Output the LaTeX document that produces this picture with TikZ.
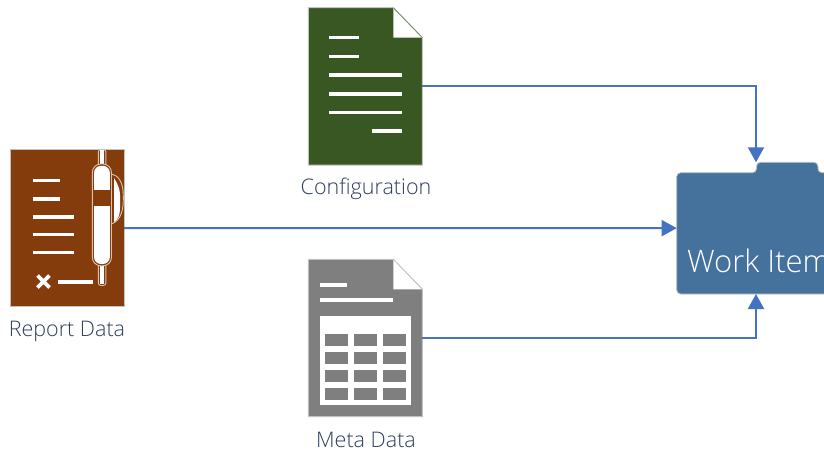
\documentclass[tikz,border=0pt]{standalone}
\usepackage{fontspec}
\setmainfont{Open Sans Light}
\usetikzlibrary{arrows.meta}
\definecolor{conn}{HTML}{4472C4}
\definecolor{labelc}{HTML}{2F3F5F}
\definecolor{brownc}{HTML}{843C0C}
\definecolor{greenc}{HTML}{385723}
\definecolor{grayc}{HTML}{7F7F7F}
\definecolor{bluec}{HTML}{44729D}
\definecolor{edgec}{HTML}{BFC4BC}
\definecolor{penedge}{HTML}{D8C3B0}
\tikzset{
  iconbox/.style={draw=none,fill=none,inner sep=0pt,outer sep=0pt,minimum width=114pt,minimum height=157.4pt},
  bar/.style={draw=white,line width=3.2pt},
  cell/.style={fill=grayc,draw=none},
  penline/.style={draw=penedge,line width=.9pt,fill=brownc},
  caption/.style={text=labelc,font=\fontsize{21.5}{25}\selectfont,inner sep=0pt,anchor=base},
  flow/.style={draw=conn,line width=2pt,-{Triangle[length=15pt,width=16pt,fill=conn]}},
}
\begin{document}
\begin{tikzpicture}[x=1pt,y=-1pt]
\useasboundingbox (0,0) rectangle (824,452);
\clip (0,0) rectangle (824,452);
\fill[white] (0,0) rectangle (824,452);
% named boxes
\node[iconbox] (report) at (67,228) {};
\node[iconbox] (config) at (365.3,86.3) {};
\node[iconbox] (meta) at (365.3,338) {};
\node[inner sep=0pt,outer sep=0pt,minimum width=158.6pt,minimum height=131.7pt] (work) at (756,228.15) {};
% report
\fill[brownc,draw=edgec,line width=1pt] (report.north west) rectangle (report.south east);
\foreach \y/\e in {180.7/60,199/60,217/73.5,234.8/73.5,252.7/73.5}
  \draw[bar] (32.5,\y) -- (\e,\y);
\draw[bar] (57.5,282) -- (92.5,282);
\draw[white,line width=3.6pt] (37.5,275.5) -- (49.5,287.5) (49.5,275.5) -- (37.5,287.5);
% pen
\draw[penline,rounded corners=2.5pt] (98.3,149.5) rectangle (105.9,285.5);
\fill[white] (99.8,149.5) rectangle (104.4,283.5);
\draw[penline] (109,174) .. controls (119,174) and (123.3,183) .. (123.3,196) -- (123.3,200) .. controls (123.3,213) and (119,223) .. (109,224.5) -- cycle;
\fill[white] (114,178) .. controls (118,184) and (120,190) .. (120,195) -- (120,208) .. controls (120,215) and (118,220) .. (114,222) -- cycle;
\draw[penline,rounded corners=8.5pt] (92.3,164) rectangle (111.5,265.8);
\fill[white,rounded corners=7pt] (94,165.8) rectangle (109.9,264);
\fill[brownc] (94,190) rectangle (109.9,206);
% config
\path[fill=greenc,draw=edgec,line width=1pt] (config.north west) -- (393.3,7.7) -- (422.3,37.7) -- (config.south east) -- (config.south west) -- cycle;
\fill[white] (393.3,7.7) -- (393.3,37.7) -- (422.3,37.7) -- cycle;
\draw[greenc!70!white,line width=.8pt] (393.3,7.7) -- (422.3,37.7);
\foreach \y/\a/\b in {37.5/329/358.5,56.5/329/358.5,75/329/401.5,94/329/401.5,112.5/329/401.5,131/372/401.5}
  \draw[bar] (\a,\y) -- (\b,\y);
% meta
\path[fill=grayc,draw=edgec,line width=1pt] (meta.north west) -- (393.3,259.3) -- (422.3,289.3) -- (meta.south east) -- (meta.south west) -- cycle;
\fill[white] (393.3,259.3) -- (393.3,289.3) -- (422.3,289.3) -- cycle;
\draw[edgec,line width=.8pt] (393.3,259.3) -- (422.3,289.3);
\draw[bar] (320.3,285) -- (347.3,285);
\draw[bar] (320.3,300) -- (393.3,300);
\fill[white] (320,316) rectangle (411,405);
\foreach \x in {325,354,383}
  \foreach \y in {334,352,370,388}
    \fill[cell] (\x,\y) rectangle ++(23,12);
% folder
\path[fill=bluec,draw=edgec,line width=.8pt,rounded corners=4pt]
  (676.7,294) -- (676.7,172.7) -- (756.5,172.7) -- (756.5,162.3) -- (818,162.3) -- (818,172.7) -- (860,172.7) -- (860,294) -- cycle;
\node[anchor=base west,text=white,font=\fontsize{31}{36}\selectfont,inner sep=0pt] (worktext) at (687,272.5) {Work Item};
% captions
\node[caption] (lab1) at (67,336.5) {Report Data};
\node[caption] (lab2) at (366,194.5) {Configuration};
\node[caption] (lab3) at (366,447) {Meta Data};
% connectors
\draw[flow] (report.east) -- (work.west);
\draw[flow] (config.east) -| (work.north);
\draw[flow] (meta.east) -| (work.south);
\end{tikzpicture}
\end{document}
